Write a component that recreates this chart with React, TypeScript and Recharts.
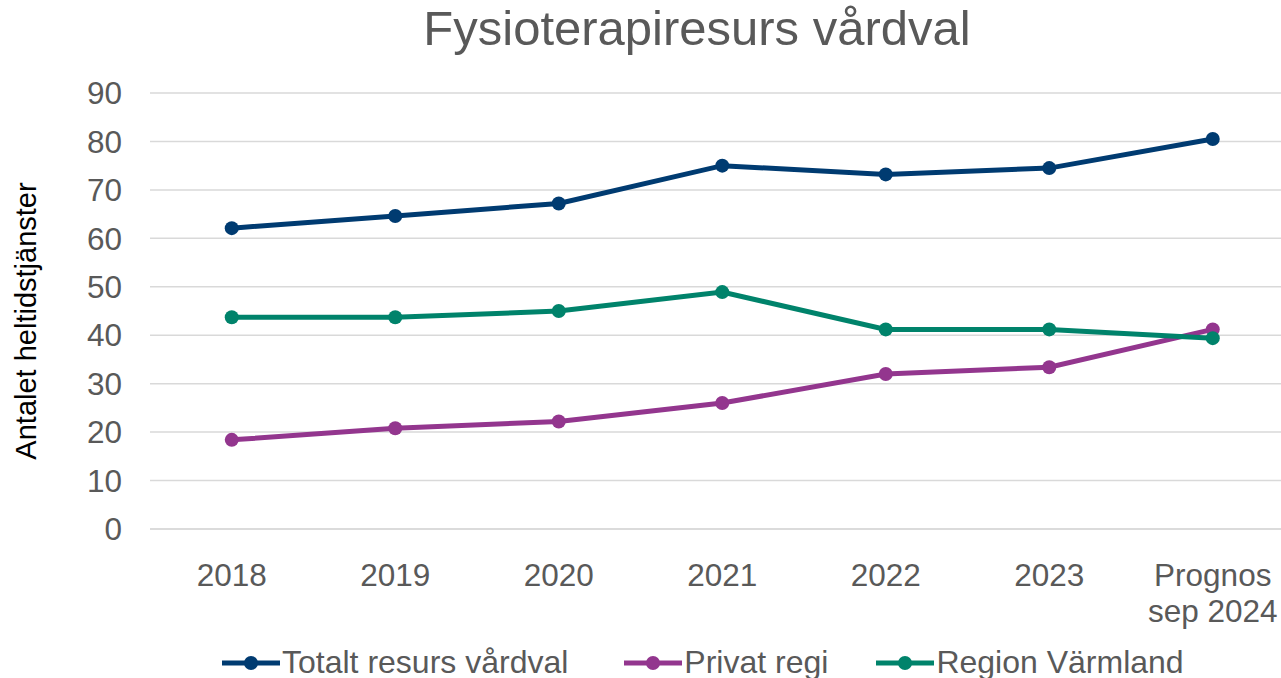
import React from 'react';
import { LineChart, Line, XAxis, YAxis, CartesianGrid } from 'recharts';

const categories = ['2018', '2019', '2020', '2021', '2022', '2023', 'Prognos\nsep 2024'];
const totalt = [62.1, 64.6, 67.2, 75.0, 73.2, 74.5, 80.5];
const privat = [18.4, 20.8, 22.2, 26.0, 32.0, 33.4, 41.2];
const region = [43.7, 43.7, 45.0, 48.9, 41.2, 41.2, 39.4];
const yTicks = [0, 10, 20, 30, 40, 50, 60, 70, 80, 90];

const series = [
  { key: 'totalt', name: 'Totalt resurs vårdval', color: '#003B71', values: totalt },
  { key: 'privat', name: 'Privat regi', color: '#93368E', values: privat },
  { key: 'region', name: 'Region Värmland', color: '#00836B', values: region },
];

const data = categories.map((c, i) => {
  const row: Record<string, string | number> = { name: c };
  series.forEach(s => { row[s.key] = s.values[i]; });
  return row;
});

const FONT = '"Liberation Sans", Arial, sans-serif';
const GREY = '#595959';
const legendGaps = [56, 48, 0];

const XTick = (props: any) => {
  const { x, y, payload } = props;
  const lines = String(payload.value).split('\n');
  return (
    <text x={x} y={y} textAnchor="middle" fill={GREY} fontSize={31.5} fontFamily={FONT}>
      {lines.map((l, i) => (
        <tspan key={i} x={x} dy={i === 0 ? 49 : 36}>{l}</tspan>
      ))}
    </text>
  );
};

const YLabel = () => (
  <text
    x={26}
    y={321}
    transform="rotate(-90 26 321)"
    textAnchor="middle"
    dominantBaseline="central"
    fill="#000"
    fontSize={29}
    fontFamily={FONT}
  >
    Antalet heltidstjänster
  </text>
);

export default function App() {
  return (
    <div style={{ position: 'absolute', left: 0, top: 0, width: 1281, height: 678, overflow: 'hidden', background: '#fff', fontFamily: FONT }}>
      <div style={{ position: 'absolute', left: 0, width: 1394, top: 0, textAlign: 'center', fontSize: 49, color: GREY }}>
        Fysioterapiresurs vårdval
      </div>
      <LineChart width={1300} height={678} data={data} margin={{ top: 93, right: 5.5, bottom: 0, left: 0 }}>
        <CartesianGrid vertical={false} stroke="#d9d9d9" strokeWidth={1.5} />
        <XAxis
          dataKey="name"
          interval={0}
          padding={{ left: 81.75, right: 81.75 }}
          axisLine={{ stroke: '#d9d9d9', strokeWidth: 1.5 }}
          tickLine={false}
          tick={<XTick />}
          height={149}
        />
        <YAxis
          domain={[0, 90]}
          ticks={yTicks}
          width={150}
          axisLine={false}
          tickLine={false}
          tickSize={0}
          tickMargin={28}
          tick={{ fill: GREY, fontSize: 31.5, fontFamily: FONT }}
          label={<YLabel />}
        />
        {series.map(s => (
          <Line
            key={s.key}
            dataKey={s.key}
            name={s.name}
            stroke={s.color}
            strokeWidth={5}
            dot={{ r: 7, fill: s.color, stroke: s.color, strokeWidth: 0 }}
            isAnimationActive={false}
          />
        ))}
      </LineChart>
      <div style={{ position: 'absolute', top: 644, left: 222, display: 'flex', alignItems: 'center', fontSize: 32, color: GREY, whiteSpace: 'nowrap' }}>
        {series.map((s, i) => (
          <div key={s.key} style={{ display: 'flex', alignItems: 'center', marginRight: legendGaps[i] }}>
            <svg width={58} height={20}>
              <line x1={0} y1={10} x2={58} y2={10} stroke={s.color} strokeWidth={5} />
              <circle cx={29} cy={10} r={7} fill={s.color} />
            </svg>
            <span style={{ marginLeft: 2 }}>{s.name}</span>
          </div>
        ))}
      </div>
    </div>
  );
}
